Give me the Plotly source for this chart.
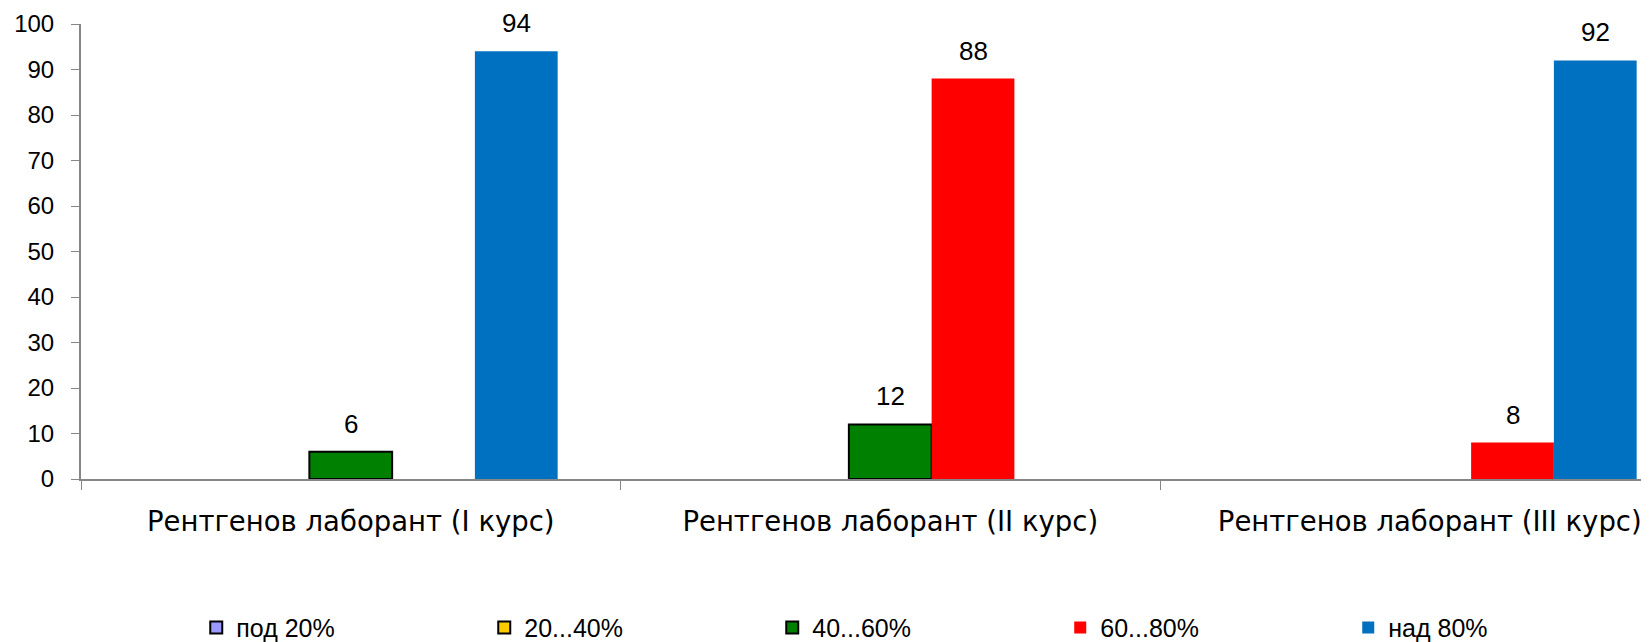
import plotly.graph_objects as go

categories = ["Рентгенов лаборант (I курс)", "Рентгенов лаборант (II курс)", "Рентгенов лаборант (III курс)"]
series_names = ["под 20%", "20...40%", "40...60%", "60...80%", "над 80%"]
pod20 = [0, 0, 0]
s20_40 = [0, 0, 0]
s40_60 = [6, 12, 0]
s60_80 = [0, 88, 8]
nad80 = [94, 0, 92]
y_ticks = [0, 10, 20, 30, 40, 50, 60, 70, 80, 90, 100]

series_values = [pod20, s20_40, s40_60, s60_80, nad80]
colors = ["#9999FF", "#FFCC00", "#008000", "#FF0000", "#0070C0"]
outlined = [True, True, True, False, False]

BARGAP = 0.233
fig = go.Figure()
for name, vals, col, ol in zip(series_names, series_values, colors, outlined):
    fig.add_trace(go.Bar(
        x=categories,
        y=[v if v != 0 else None for v in vals],
        name=name,
        marker=dict(color=col, line=dict(color="black" if ol else col, width=2 if ol else 0)),
    ))

n = len(series_names)
slot = (1 - BARGAP) / n
for i, vals in enumerate(series_values):
    for ci, v in enumerate(vals):
        if v:
            fig.add_annotation(
                x=ci + (i - (n - 1) / 2) * slot, y=v, xref="x", yref="y",
                text=str(v), showarrow=False, yanchor="middle", yshift=28,
                font=dict(family="Liberation Sans, Arial", size=26, color="black"),
            )

# the page body has an 8px default margin, so the figure is 8px smaller
cat_w = 539.5
plot_w = 1568
fig.update_layout(
    width=1641, height=634,
    margin=dict(l=73, r=0, t=16, b=163, autoexpand=False),
    paper_bgcolor="white", plot_bgcolor="white",
    barmode="group", bargap=BARGAP, bargroupgap=0,
    showlegend=True,
    legend=dict(
        orientation="h", x=0.0735, xanchor="left", y=-0.327, yanchor="middle",
        entrywidth=243, entrywidthmode="pixels", itemwidth=30,
        font=dict(family="Liberation Sans, Arial", size=25, color="black"),
        traceorder="normal",
    ),
    xaxis=dict(
        type="category", range=[-0.5, -0.5 + plot_w / cat_w],
        showline=True, linecolor="#868686", linewidth=2,
        ticks="outside", tickson="boundaries", ticklen=9, tickcolor="#868686",
        tickfont=dict(family="DejaVu Sans", size=27.5, color="black"),
        ticklabelstandoff=17, automargin=False,
        showgrid=False, zeroline=False,
    ),
    yaxis=dict(
        range=[0, 100], tickvals=y_ticks,
        showline=True, linecolor="#868686", linewidth=2,
        ticks="outside", ticklen=8, tickcolor="#868686",
        tickfont=dict(family="Liberation Sans, Arial", size=24, color="black"),
        ticklabelstandoff=12, automargin=False,
        showgrid=False, zeroline=False,
    ),
)
fig.write_html("out.html")
